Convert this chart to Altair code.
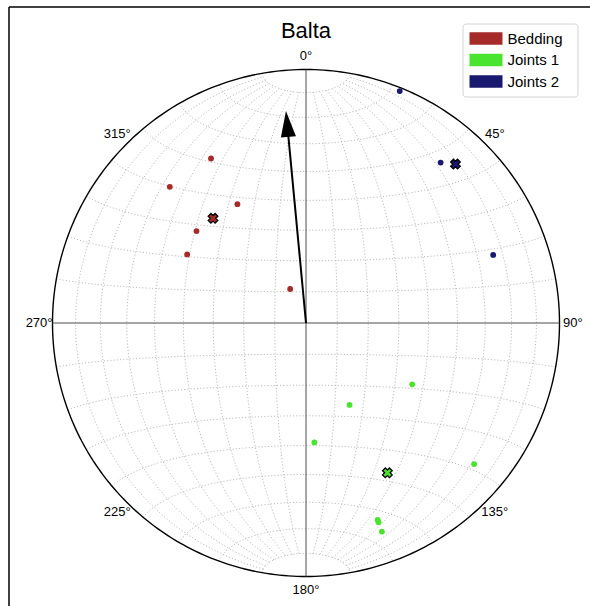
import numpy as np
import pandas as pd
import altair as alt

# Field measurements of planes: dip direction and dip (degrees)
bedding_dipdir = [150, 135, 150, 130, 120, 155]
bedding_dip = [64, 65, 45, 47, 45, 12]

joints1_dipdir = [300, 332, 356, 310, 340, 340, 340]
joints1_dip = [40, 30, 39, 75.5, 71.5, 72.5, 76.5]

joints2_dipdir = [202, 220, 250]
joints2_dip = [88.5, 71.5, 67.5]

set_names = ["Bedding", "Joints 1", "Joints 2"]
set_colors = ["#a52a2a", "#4ae42e", "#191970"]

# Direction arrow: azimuth (degrees) and length as a fraction of the net radius
arrow_azimuth = [354.6]
arrow_length = [0.84]

azimuth_ticks = [0, 45, 90, 135, 180, 225, 270, 315]
title_text = "Balta"

# Net geometry in pixels (centre and radius of the primitive circle)
CX, CY, R = 306, 323, 253.5
HEAD_LEN = 26  # arrowhead length, px


def pole_xy(dipdir, dip):
    """Lower-hemisphere equal-area position of the pole to each plane."""
    dipdir = np.asarray(dipdir, float)
    dip = np.asarray(dip, float)
    trend = np.radians((dipdir + 180.0) % 360.0)
    r = np.sqrt(2.0) * np.sin(np.radians(dip) / 2.0)
    return r * np.sin(trend), r * np.cos(trend)


def mean_pole(dipdir, dip):
    """Vector mean of the poles, returned as trend/plunge."""
    trend = np.radians((np.asarray(dipdir, float) + 180.0) % 360.0)
    plunge = np.radians(90.0 - np.asarray(dip, float))
    n = np.sum(np.cos(plunge) * np.cos(trend))
    e = np.sum(np.cos(plunge) * np.sin(trend))
    d = np.sum(np.sin(plunge))
    norm = np.sqrt(n * n + e * e + d * d)
    return np.degrees(np.arctan2(e, n)) % 360.0, np.degrees(np.arcsin(d / norm))


def line_xy(trend, plunge):
    r = np.sqrt(2.0) * np.sin(np.radians(90.0 - plunge) / 2.0)
    return r * np.sin(np.radians(trend)), r * np.cos(np.radians(trend))


def lonlat_xy(lon, lat):
    """Equatorial Lambert azimuthal equal-area, scaled to a unit primitive."""
    lon, lat = np.radians(lon), np.radians(lat)
    k = np.sqrt(2.0 / (1.0 + np.cos(lat) * np.cos(lon)))
    return k * np.cos(lat) * np.sin(lon) / np.sqrt(2.0), k * np.sin(lat) / np.sqrt(2.0)


# ---- tables -----------------------------------------------------------------
sets = [
    ("Bedding", bedding_dipdir, bedding_dip),
    ("Joints 1", joints1_dipdir, joints1_dip),
    ("Joints 2", joints2_dipdir, joints2_dip),
]
pts, means = [], []
for name, dd, dp in sets:
    x, y = pole_xy(dd, dp)
    pts.append(pd.DataFrame({"x": x, "y": y, "set": name}))
    tr, pl = mean_pole(dd, dp)
    mx, my = line_xy(tr, pl)
    means.append({"x": mx, "y": my, "set": name})
pts = pd.concat(pts, ignore_index=True)
means = pd.DataFrame(means)

# graticule: meridians stop at +/-80 deg latitude, parallels run rim to rim
grid_rows = []
steps = np.arange(-80, 81, 10)
for lon in steps:
    if lon == 0:
        continue
    lat = np.linspace(-80, 80, 81)
    gx, gy = lonlat_xy(np.full_like(lat, lon), lat)
    grid_rows.append(pd.DataFrame({"x": gx, "y": gy, "k": np.arange(lat.size), "line": f"m{lon}"}))
for lat0 in steps:
    if lat0 == 0:
        continue
    lon = np.linspace(-90, 90, 91)
    gx, gy = lonlat_xy(lon, np.full_like(lon, lat0))
    grid_rows.append(pd.DataFrame({"x": gx, "y": gy, "k": np.arange(lon.size), "line": f"p{lat0}"}))
grid = pd.concat(grid_rows, ignore_index=True)

ang = np.radians(np.arange(0, 361, 1))
primitive = pd.DataFrame({"x": np.sin(ang), "y": np.cos(ang), "k": np.arange(ang.size)})

cross_axes = pd.DataFrame({"x": [-1, 0], "y": [0, -1], "x2": [1, 0], "y2": [0, 1]})

az = np.radians(arrow_azimuth[0])
tip_x, tip_y = arrow_length[0] * np.sin(az), arrow_length[0] * np.cos(az)
base_len = arrow_length[0] - HEAD_LEN / R * 0.8
arrow = pd.DataFrame({
    "x": [0.0], "y": [0.0],
    "x2": [base_len * np.sin(az)], "y2": [base_len * np.cos(az)],
    "tx": [tip_x], "ty": [tip_y], "az": arrow_azimuth,
})

lab_r = 1.053
labels = pd.DataFrame({
    "x": [lab_r * np.sin(np.radians(a)) for a in azimuth_ticks],
    "y": [lab_r * np.cos(np.radians(a)) for a in azimuth_ticks],
    "t": [f"{a}°" for a in azimuth_ticks],
})
title_df = pd.DataFrame({"x": [0.0], "t": [title_text]})

# ---- chart --------------------------------------------------------------------
xs = alt.Scale(domain=[-1, 1], range=[CX - R, CX + R], nice=False, zero=False)
ys = alt.Scale(domain=[-1, 1], range=[CY + R, CY - R], nice=False, zero=False)
X = alt.X("x:Q", scale=xs, axis=None)
Y = alt.Y("y:Q", scale=ys, axis=None)
color_scale = alt.Scale(domain=set_names, range=set_colors)
FONT = "Liberation Sans"

grid_layer = alt.Chart(grid).mark_line(
    color="#b4b4b4", strokeWidth=0.9, strokeDash=[1.2, 2.0]
).encode(x=X, y=Y, detail="line:N", order="k:Q")

primitive_layer = alt.Chart(primitive).mark_line(
    color="black", strokeWidth=1.4
).encode(x=X, y=Y, order="k:Q")

axes_layer = alt.Chart(cross_axes).mark_rule(color="#4d4d4d", strokeWidth=1).encode(
    x=X, y=Y, x2="x2:Q", y2="y2:Q"
)

shaft_layer = alt.Chart(arrow).mark_rule(color="black", strokeWidth=2).encode(
    x=X, y=Y, x2="x2:Q", y2="y2:Q"
)
head_layer = alt.Chart(arrow).mark_point(
    shape="M0,0L0.58,2L-0.58,2Z", filled=True, color="black", opacity=1,
    size=HEAD_LEN ** 2, strokeWidth=0,
).encode(
    x=alt.X("tx:Q", scale=xs, axis=None),
    y=alt.Y("ty:Q", scale=ys, axis=None),
    angle=alt.Angle("az:Q", scale=None),
)

# legend frame sits behind the legend entries
legend_box = alt.Chart(pd.DataFrame({"k": [0]})).mark_rect(
    fill="white", stroke="#d4d4d4", strokeWidth=1, cornerRadius=3
).encode(x=alt.value(463), x2=alt.value(578), y=alt.value(24), y2=alt.value(97))

points_layer = alt.Chart(pts).mark_circle(size=34, opacity=1).encode(
    x=X, y=Y,
    color=alt.Color(
        "set:N", scale=color_scale,
        legend=alt.Legend(
            title=None, orient="none", legendX=469, legendY=31,
            symbolType="M-3.3,-1.23H3.3V1.23H-3.3Z", symbolSize=100,
            symbolStrokeWidth=0, symbolOpacity=1, symbolOffset=9.5,
            labelOffset=14, labelFont=FONT, labelFontSize=15, labelColor="black",
            padding=0, rowPadding=5.5,
        ),
    ),
)

means_layer = alt.Chart(means).mark_point(
    shape="cross", angle=45, filled=True, size=95, opacity=1,
    stroke="black", strokeWidth=1.3,
).encode(x=X, y=Y, color=alt.Color("set:N", scale=color_scale, legend=None))

labels_layer = alt.Chart(labels).mark_text(
    font=FONT, fontSize=13, color="black", align="center", baseline="middle"
).encode(x=X, y=Y, text="t:N")

title_layer = alt.Chart(title_df).mark_text(
    font=FONT, fontSize=22, color="black", align="center", baseline="middle"
).encode(x=X, y=alt.value(31), text="t:N")

frame_df = pd.DataFrame({"k": [0]})
frame_left = alt.Chart(frame_df).mark_rule(color="black", strokeWidth=1.5).encode(
    x=alt.value(9), y=alt.value(7), y2=alt.value(606)
)
frame_top = alt.Chart(frame_df).mark_rule(color="black", strokeWidth=1.5).encode(
    x=alt.value(9), x2=alt.value(590), y=alt.value(7)
)

chart = alt.layer(
    grid_layer, primitive_layer, axes_layer, shaft_layer, head_layer, legend_box,
    points_layer, means_layer, labels_layer, title_layer, frame_left, frame_top,
).properties(
    width=590, height=606, padding=0,
    autosize=alt.AutoSizeParams(type="none"),
    background="white",
).configure_view(strokeWidth=0)

chart.save("out.html", embed_options={"renderer": "svg", "actions": False})
